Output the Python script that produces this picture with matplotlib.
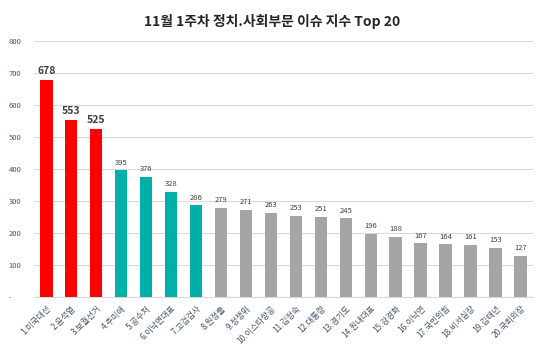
import matplotlib
matplotlib.use("Agg")
import matplotlib.pyplot as plt

plt.rcParams['font.family'] = ['Noto Sans CJK KR', 'DejaVu Sans']

# 데이터
labels = ['1.미국대선', '2.윤석열', '3.보궐선거', '4.추미애', '5.공수처', '6.이낙연대표',
          '7.고검검사', '8.원정출', '9.정쟁위', '10.이스타항공', '11.김정숙', '12.대통령',
          '13.경기도', '14.원내대표', '15.강경화', '16.이낙연', '17.국민의힘', '18.비서실장',
          '19.김태년', '20.국회의장']
values = [678, 553, 525, 395, 376, 328, 286, 279, 271, 263, 253, 251,
          245, 196, 188, 167, 164, 161, 153, 127]
colors = ['#FF0000'] * 3 + ['#00B0A8'] * 4 + ['#A5A5A5'] * 13

fig = plt.figure(figsize=(5.45, 3.62), dpi=100)
ax = fig.add_axes([0.062, 0.18, 0.916, 0.707])

x = range(len(values))
bars = ax.bar(x, values, width=0.5, color=colors, zorder=3)

for i, (b, v) in enumerate(zip(bars, values)):
    if i < 3:
        ax.text(b.get_x() + b.get_width() / 2, v + 12, str(v), ha='center', va='bottom',
                fontsize=7.5, fontweight='bold', color='#404040')
    else:
        ax.text(b.get_x() + b.get_width() / 2, v + 12, str(v), ha='center', va='bottom',
                fontsize=5.5, color='#404040')

ax.set_ylim(0, 800)
ax.set_xlim(-0.5, len(values) - 0.5)
ax.set_yticks(range(0, 801, 100))
ax.set_yticklabels(['-'] + [str(t) for t in range(100, 801, 100)])
ax.tick_params(axis='y', labelsize=5.5, colors='#44546A', length=0, pad=18)
for t in ax.get_yticklabels():
    t.set_horizontalalignment('left')
ax.set_xticks(list(x))
ax.set_xticklabels(labels, rotation=45, ha='right', rotation_mode='anchor',
                   fontsize=6, color='#44546A')
ax.tick_params(axis='x', length=0, pad=5)
ax.grid(axis='y', color='#D9D9D9', linewidth=0.8, zorder=0)
for s in ['top', 'right', 'left']:
    ax.spines[s].set_visible(False)
ax.spines['bottom'].set_color('#D9D9D9')

fig.suptitle('11월 1주차 정치.사회부문 이슈 지수 Top 20', y=0.96, fontsize=10,
             fontweight='bold', color='#262626')

fig.savefig('out.png', dpi=100)
